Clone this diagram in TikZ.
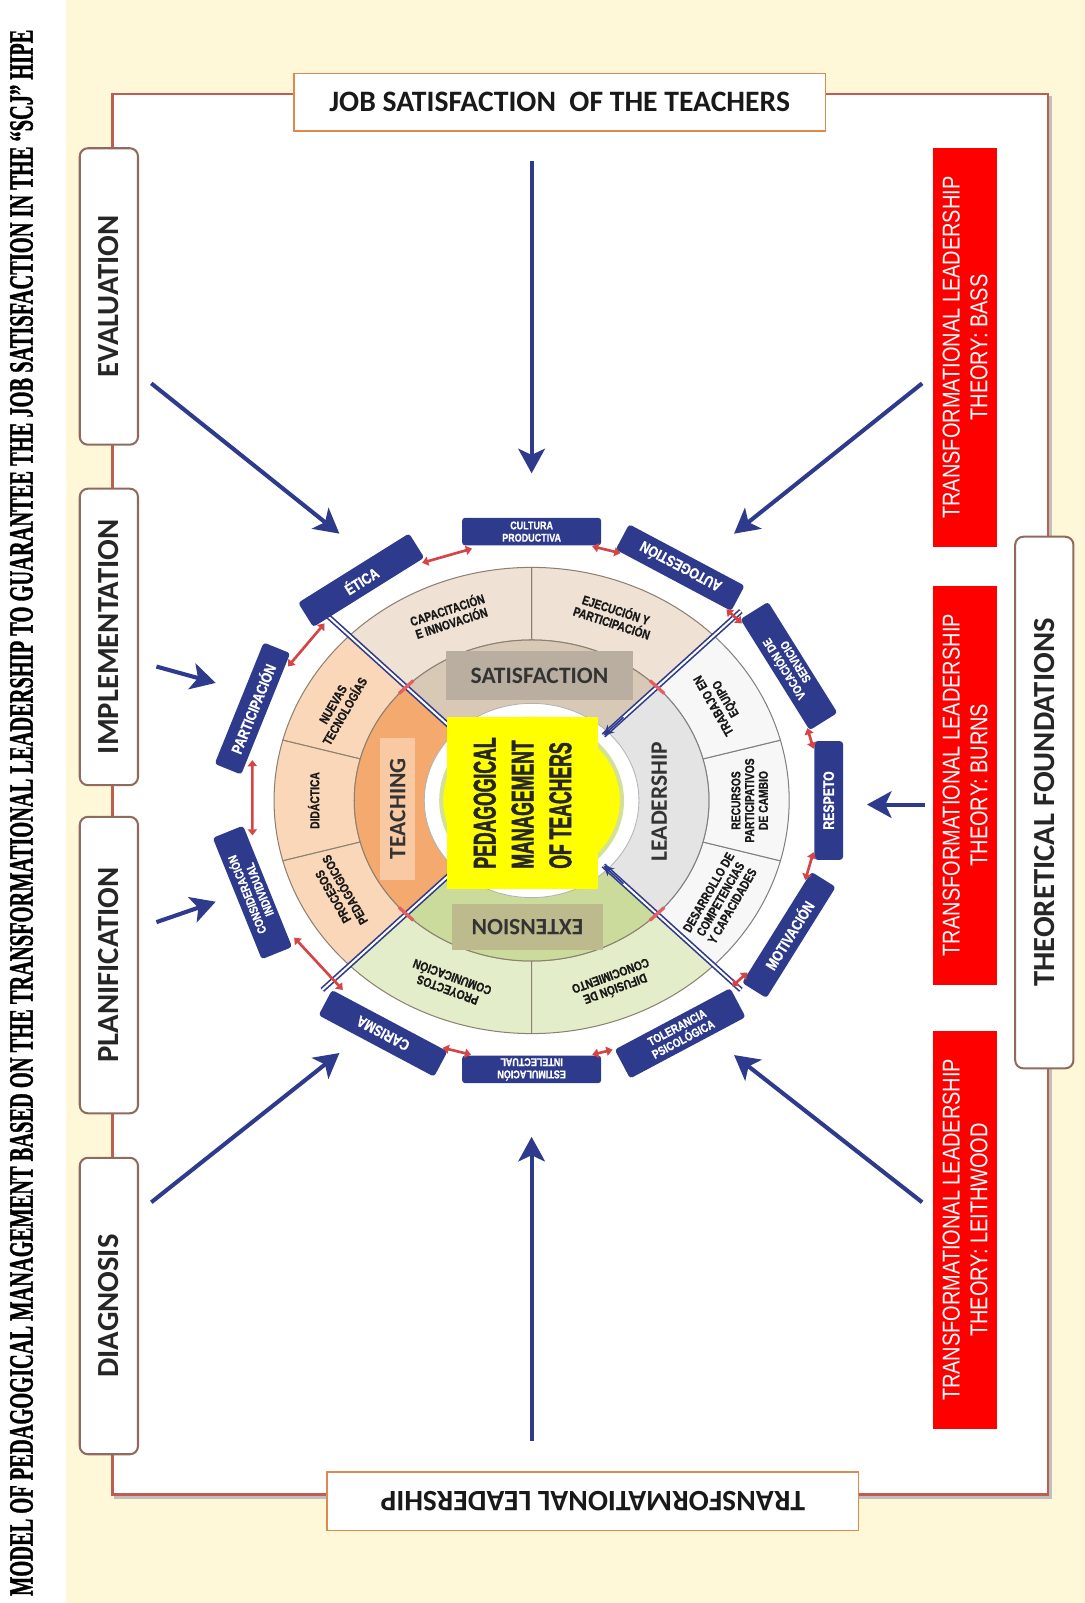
\documentclass[tikz,border=0pt]{standalone}
\usepackage{fontspec}
\usepackage{graphicx}
\usetikzlibrary{arrows.meta,calc}
\setmainfont{Carlito}
\newfontfamily\titlefont{Liberation Serif}[BoldFeatures={FakeBold=1.6}]
\newfontfamily\narrowfont{Liberation Sans}[FakeStretch=0.82]
\newfontfamily\condfont{Liberation Sans}[FakeStretch=0.8, BoldFeatures={FakeBold=0.8}]
\newfontfamily\yelfont{Liberation Sans}[FakeStretch=0.56, BoldFeatures={FakeBold=1.5}]

\definecolor{cream}{HTML}{FFF8D8}
\definecolor{navy}{HTML}{2E3A8C}
\definecolor{framecol}{HTML}{BE5E50}
\definecolor{boxbrd}{HTML}{8F6B5F}
\definecolor{orbrd}{HTML}{E0894F}
\definecolor{redc}{HTML}{D64545}
\definecolor{theoryred}{HTML}{FF0000}
\definecolor{topout}{HTML}{EFE1D3}
\definecolor{topmid}{HTML}{D8C9B7}
\definecolor{leftout}{HTML}{FBD7BA}
\definecolor{leftmid}{HTML}{F4A96F}
\definecolor{botout}{HTML}{E4EDC9}
\definecolor{botmid}{HTML}{CADB9C}
\definecolor{rightout}{HTML}{F7F7F7}
\definecolor{rightmid}{HTML}{E4E4E4}
\definecolor{segline}{HTML}{8C8072}
\definecolor{satcol}{HTML}{B9AE9F}
\definecolor{extcol}{HTML}{BDBB8E}
\definecolor{teachcol}{HTML}{F8C9A2}
\definecolor{yel}{HTML}{FFFF00}
\definecolor{yelring}{HTML}{D3E197}
\definecolor{redtick}{HTML}{E36060}

\newcommand\wsector[5]{\path[#5] (#3:#1) arc[start angle=#3,end angle=#4,radius=#1] -- (#4:#2) arc[start angle=#4,end angle=#3,radius=#2] -- cycle;}

\begin{document}
\begin{tikzpicture}[x=0.5pt,y=-0.5pt,
  sidebox/.style={draw=boxbrd, line width=1pt, fill=white, rounded corners=4pt, rotate=90, minimum width=145pt, minimum height=28.5pt, inner sep=0pt, text=black!85, font=\bfseries\fontsize{15}{16}\selectfont},
  edgebox/.style={draw=orbrd, line width=0.7pt, fill=white, minimum width=260pt, minimum height=28pt, inner sep=0pt, text=black!90, font=\bfseries\fontsize{14.5}{16}\selectfont},
  theorybox/.style={fill=theoryred, text=white, rotate=90, minimum width=195pt, minimum height=31pt, inner sep=0pt, align=center, font=\narrowfont\fontsize{11.9}{13.5}\selectfont},
  bigarrow/.style={draw=navy, line width=2pt, -{Stealth[length=12pt,width=13pt,inset=3pt]}},
  bbox/.style={fill=navy, rounded corners=1.5pt, text=white, align=center, inner sep=0pt, minimum width=64pt, minimum height=14pt, font=\condfont\bfseries\fontsize{7.5}{8}\selectfont},
  bbox2/.style={bbox, minimum height=16pt, font=\condfont\bfseries\fontsize{6}{6.5}\selectfont},
  segtxt/.style={text=black!90, align=center, inner sep=0pt, font=\condfont\bfseries\fontsize{6.3}{6.7}\selectfont},
  ringlabel/.style={inner sep=0pt, text=black!80, font=\bfseries\fontsize{11.5}{14}\selectfont},
  redconn/.style={draw=redc, line width=1.3pt, {Triangle[length=3pt,width=4.5pt]}-{Triangle[length=3pt,width=4.5pt]}, shorten >=1pt, shorten <=1pt},
  diag/.style={draw=navy, line width=0.8pt, double=white, double distance=1pt},
]
\useasboundingbox (0,0) rectangle (1061,1568);
\fill[white] (0,0) rectangle (1061,1568);
\fill[cream] (65,0) rectangle (1061,1568);

% title
\node[rotate=90, inner sep=0pt] (title) at (21,795) {\resizebox{766pt}{11pt}{\titlefont\bfseries MODEL OF PEDAGOGICAL MANAGEMENT BASED ON THE TRANSFORMATIONAL LEADERSHIP TO GUARANTEE THE JOB SATISFACTION IN THE “SCJ” HIPE}};

% frame
\draw[black!25, line width=1.5pt] (113,95) rectangle (1028,1465);
\draw[framecol, line width=1.2pt, fill=white] (110,92) rectangle (1025,1462);

% top / bottom boxes
\node[edgebox] (jobsat) at (547.5,100) {JOB SATISFACTION\ \ OF THE TEACHERS};
\node[edgebox, rotate=180, minimum height=28.5pt] (tl) at (580,1468.5) {TRANSFORMATIONAL LEADERSHIP};

% side boxes
\node[sidebox] (eval) at (106.5,290) {EVALUATION};
\node[sidebox] (impl) at (106.5,623) {IMPLEMENTATION};
\node[sidebox] (plan) at (106.5,944) {PLANIFICATION};
\node[sidebox] (diagn) at (106.5,1277.5) {DIAGNOSIS};
\node[sidebox, minimum width=260pt, font=\bfseries\fontsize{15}{16}\selectfont] (theo) at (1021.5,785) {THEORETICAL FOUNDATIONS};

% theory boxes
\node[theorybox] (bass) at (944,340) {TRANSFORMATIONAL LEADERSHIP\\THEORY: BASS};
\node[theorybox] (burns) at (944,768) {TRANSFORMATIONAL LEADERSHIP\\THEORY: BURNS};
\node[theorybox] (leith) at (944,1203) {TRANSFORMATIONAL LEADERSHIP\\THEORY: LEITHWOOD};

% wheel
\begin{scope}[shift={(520,783)}, xscale=1.105, yscale=-1]
  \wsector{157}{228}{45}{90}{fill=topout,draw=segline,line width=0.5pt}
  \wsector{157}{228}{90}{135}{fill=topout,draw=segline,line width=0.5pt}
  \wsector{94}{157}{45}{135}{fill=topmid,draw=segline,line width=0.5pt}
  \wsector{157}{228}{135}{165}{fill=leftout,draw=segline,line width=0.5pt}
  \wsector{157}{228}{165}{195}{fill=leftout,draw=segline,line width=0.5pt}
  \wsector{157}{228}{195}{225}{fill=leftout,draw=segline,line width=0.5pt}
  \wsector{94}{157}{135}{225}{fill=leftmid,draw=segline,line width=0.5pt}
  \wsector{157}{228}{225}{270}{fill=botout,draw=segline,line width=0.5pt}
  \wsector{157}{228}{270}{315}{fill=botout,draw=segline,line width=0.5pt}
  \wsector{94}{157}{225}{315}{fill=botmid,draw=segline,line width=0.5pt}
  \wsector{157}{228}{-45}{-15}{fill=rightout,draw=gray,line width=0.5pt}
  \wsector{157}{228}{-15}{15}{fill=rightout,draw=gray,line width=0.5pt}
  \wsector{157}{228}{15}{45}{fill=rightout,draw=gray,line width=0.5pt}
  \wsector{94}{157}{-45}{45}{fill=rightmid,draw=gray,line width=0.5pt}
  \path[fill=white, draw=gray!60, line width=0.4pt] (0,0) circle[radius=95];
  \path[fill=yel, draw=yelring, line width=2pt] (0,0) circle[radius=80];

  % diagonals
  \foreach \a in {45,135,225,315}{
    \coordinate (do\a) at (\a:262);
    \coordinate (di\a) at (\a:90);
    \coordinate (ah\a) at (\a:115);
  }
  \draw[diag] (do45) -- (di45);
  \draw[diag] (do135) -- (di135);
  \draw[diag] (do225) -- (di225);
  \draw[diag] (do315) -- (di315);
  \draw[navy, line width=0.8pt, -{Stealth[length=5pt,width=5pt]}] (ah45) -- (di45);
  \draw[navy, line width=0.8pt, -{Stealth[length=5pt,width=5pt]}] (ah315) -- (di315);
  \foreach \a in {45,135,225,315}{
    \draw[redtick, line width=1.6pt] ($(\a:157)+(\a+90:9)$) -- ($(\a:157)+(\a-90:9)$);
  }

  % ring labels
  \node[ringlabel, fill=satcol, minimum width=91pt, minimum height=24pt] (satis) at (7,122) {SATISFACTION};
  \node[ringlabel, fill=extcol, minimum width=74pt, minimum height=22.5pt, rotate=180] (exten) at (-3.6,-124) {EXTENSION};
  \node[ringlabel, fill=teachcol, minimum width=69.5pt, minimum height=17pt, rotate=90] (teach) at (-118.6,-8) {TEACHING};
  \node[ringlabel, rotate=90] (lead) at (113,-1) {LEADERSHIP};

  % centre
  \node[fill=yel, rotate=90, minimum width=84.5pt, minimum height=74pt, inner sep=0pt, align=left, text=black!85, font=\yelfont\bfseries\fontsize{15.4}{18.5}\selectfont] (pgm) at (-8,-2.5) {PEDAGOGICAL\\MANAGEMENT\\OF TEACHERS};

  % segment texts
  \node[segtxt, rotate=18] (s1) at (112:195) {CAPACITACIÓN\\E INNOVACIÓN};
  \node[segtxt, rotate=-18] (s2) at (68:195) {EJECUCIÓN Y\\PARTICIPACIÓN};
  \node[segtxt, rotate=60] (s3) at (152:193) {NUEVAS\\TECNOLOGÍAS};
  \node[segtxt, rotate=90] (s4) at (180:193) {DIDÁCTICA};
  \node[segtxt, rotate=120] (s5) at (208:193) {PROCESOS\\PEDAGÓGICOS};
  \node[segtxt, rotate=160] (s6) at (248:193) {PROYECTOS\\COMUNICACIÓN};
  \node[segtxt, rotate=200] (s7) at (292:193) {DIFUSIÓN DE\\CONOCIMIENTO};
  \node[segtxt, rotate=120] (s8) at (30:193) {TRABAJO EN\\EQUIPO};
  \node[segtxt, rotate=90] (s9) at (0:193) {RECURSOS\\PARTICIPATIVOS\\DE CAMBIO};
  \node[segtxt, rotate=60] (s10) at (-30:193) {DESARROLLO DE\\COMPETENCIAS\\Y CAPACIDADES};

  % blue boxes
  \node[bbox, minimum width=58pt, rotate=90] (respeto) at (0:263) {RESPETO};
  \node[bbox2, rotate=122] (vocacion) at (30:263) {VOCACIÓN DE\\SERVICIO};
  \node[bbox, rotate=152] (autog) at (60:263) {AUTOGESTIÓN};
  \node[bbox2, minimum width=68pt, minimum height=13.5pt, rotate=0, font=\condfont\bfseries\fontsize{5.5}{6}\selectfont] (cultura) at (90:263) {CULTURA\\PRODUCTIVA};
  \node[bbox, rotate=32] (etica) at (125:263) {ÉTICA};
  \node[bbox, rotate=68] (partic) at (160:263) {PARTICIPACIÓN};
  \node[bbox2, rotate=112] (consid) at (200:263) {CONSIDERACIÓN\\INDIVIDUAL};
  \node[bbox, rotate=152] (carisma) at (240:263) {CARISMA};
  \node[bbox2, minimum width=68pt, minimum height=13.5pt, rotate=180, font=\condfont\bfseries\fontsize{5.5}{6}\selectfont] (estim) at (270:263) {ESTIMULACIÓN\\INTELECTUAL};
  \node[bbox2, rotate=28] (toler) at (300:263) {TOLERANCIA\\PSICOLÓGICA};
  \node[bbox, rotate=58] (motiv) at (330:263) {MOTIVACIÓN};

  % red connectors
  \draw[redconn] (respeto) -- (vocacion);
  \draw[redconn] (vocacion) -- (autog);
  \draw[redconn] (autog) -- (cultura);
  \draw[redconn, shorten >=5pt, shorten <=5pt] (cultura) -- (etica);
  \draw[redconn, shorten >=4pt, shorten <=4pt] (etica) -- (partic);
  \draw[redconn, shorten >=6pt, shorten <=6pt] (partic) -- (consid);
  \draw[redconn, shorten >=7pt, shorten <=7pt] (consid) -- (carisma);
  \draw[redconn] (carisma) -- (estim);
  \draw[redconn] (estim) -- (toler);
  \draw[redconn] (toler) -- (motiv);
  \draw[redconn] (motiv) -- (respeto);
\end{scope}

% big arrows
\coordinate (t1) at (520,157); \coordinate (h1) at (520,463);
\coordinate (t2) at (520,1410); \coordinate (h2) at (520,1112);
\coordinate (t3) at (148,375); \coordinate (h3) at (332,522);
\coordinate (t4) at (153,652); \coordinate (h4) at (211,668);
\coordinate (t5) at (153,902); \coordinate (h5) at (211,882);
\coordinate (t6) at (148,1176); \coordinate (h6) at (332,1030);
\coordinate (t7) at (902,375); \coordinate (h7) at (718,522);
\coordinate (t8) at (905,787); \coordinate (h8) at (848,787);
\coordinate (t9) at (902,1176); \coordinate (h9) at (718,1032);
\foreach \i in {1,...,9}{ \draw[bigarrow] (t\i) -- (h\i); }
\end{tikzpicture}
\end{document}
